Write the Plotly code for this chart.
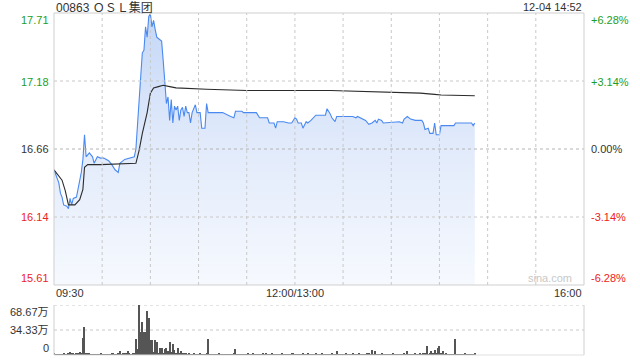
import plotly.graph_objects as go

# ---------------- data ----------------
title_text = "00863 ＯＳＬ集团"
stamp_text = "12-04 14:52"
prev_close = 16.66
pct_limit = 0.0628

# trading minutes since 09:30 (12:00 and 13:00 both at 150)
price_minute = [0, 2, 3, 4, 5, 6, 8, 9, 10, 11, 12, 14, 16, 17, 18, 19, 20, 22, 24, 25,
                27, 29, 31, 34, 36, 38, 40, 41, 44, 47, 50, 51, 52, 53, 54, 55, 56, 57, 58, 59,
                60, 61, 62, 63, 64, 65, 67, 68, 69, 70, 71, 72, 73, 74, 75, 76, 77, 78, 79, 80,
                81, 82, 83, 84, 85, 86, 88, 89, 91, 92, 94, 95, 96, 105, 110, 112, 113, 117, 118, 126,
                128, 133, 134, 137, 138, 139, 143, 146, 148, 150, 151, 152, 154, 155, 157, 158, 160, 163, 169, 170,
                172, 173, 175, 176, 186, 188, 189, 191, 194, 196, 198, 200, 201, 202, 204, 205, 215, 217, 218, 220,
                222, 225, 229, 230, 231, 233, 234, 236, 237, 238, 240, 241, 249, 250, 260, 261, 262]
price_value = [16.50, 16.44, 16.40, 16.32, 16.29, 16.23, 16.22, 16.20, 16.28, 16.23, 16.28, 16.29, 16.42, 16.48, 16.58, 16.77, 16.60, 16.63, 16.60, 16.55,
               16.60, 16.59, 16.59, 16.57, 16.54, 16.50, 16.48, 16.55, 16.58, 16.59, 16.60, 16.66, 16.88, 17.06, 17.22, 17.40, 17.42, 17.60, 17.52, 17.68,
               17.70, 17.60, 17.65, 17.58, 17.52, 17.51, 17.49, 17.34, 17.17, 17.01, 17.06, 16.88, 17.04, 16.86, 16.99, 16.96, 16.99, 16.88, 16.96, 16.98,
               16.91, 16.99, 16.94, 16.94, 16.86, 16.94, 17.00, 16.94, 16.94, 16.82, 16.82, 17.01, 16.94, 16.94, 16.91, 16.90, 16.95, 16.95, 16.94, 16.94,
               16.90, 16.90, 16.86, 16.86, 16.82, 16.87, 16.87, 16.86, 16.86, 16.90, 16.89, 16.86, 16.86, 16.82, 16.87, 16.86, 16.88, 16.92, 16.92, 16.97,
               16.93, 16.90, 16.87, 16.91, 16.91, 16.90, 16.91, 16.90, 16.88, 16.85, 16.86, 16.88, 16.86, 16.89, 16.88, 16.86, 16.87, 16.86, 16.89, 16.91,
               16.89, 16.88, 16.88, 16.86, 16.81, 16.82, 16.78, 16.78, 16.86, 16.77, 16.77, 16.84, 16.84, 16.86, 16.86, 16.84, 16.86]

avg_minute = [0, 3, 5, 7, 9, 13, 16, 18, 19, 21, 29, 51, 53, 55, 58, 60, 62, 65, 68, 72,
              76, 95, 120, 172, 197, 228, 237, 241, 262]
avg_value = [16.50, 16.45, 16.42, 16.34, 16.23, 16.23, 16.27, 16.35, 16.52, 16.54, 16.54, 16.55, 16.65, 16.78, 16.94, 17.09, 17.13, 17.14, 17.15, 17.14,
             17.13, 17.12, 17.11, 17.11, 17.10, 17.09, 17.08, 17.075, 17.07]

# volume per minute, unit: 万 shares (minutes 0..262)
volume_wan = [
    2.5, 1.0, 0.8, 1.2, 0.6, 1.0, 1.5, 0.8, 1.2, 3.0,
    3.5, 2.0, 3.0, 1.0, 2.5, 1.5, 4.0, 2.0, 23.0, 38.0,
    3.0, 1.5, 2.0, 1.0, 0.8, 1.2, 0.6, 1.0, 0.8, 1.5,
    1.0, 0.8, 1.2, 0.6, 1.0, 0.8, 1.5, 2.0, 1.0, 0.8,
    1.5, 6.0, 1.0, 2.0, 1.5, 3.0, 6.0, 2.0, 1.0, 1.5,
    3.0, 22.0, 8.0, 68.67, 32.0, 45.0, 31.0, 32.0, 61.0, 51.0,
    21.0, 21.0, 4.0, 21.0, 18.0, 3.0, 9.0, 10.0, 3.0, 8.0,
    10.0, 5.0, 18.0, 4.0, 15.0, 7.0, 2.0, 9.0, 2.0, 5.0,
    1.5, 2.0, 3.0, 1.0, 1.5, 0.8, 1.0, 3.0, 1.2, 0.8,
    1.0, 1.5, 0.8, 1.2, 1.0, 1.5, 22.0, 1.0, 0.8, 1.2,
    0.6, 1.0, 0.8, 1.5, 0.6, 1.0, 0.8, 0.6, 1.2, 0.8,
    1.0, 0.6, 1.5, 8.0, 1.0, 0.8, 0.6, 1.2, 1.0, 0.8,
    0.6, 1.5, 1.0, 0.8, 2.0, 1.0, 0.6, 0.8, 1.2, 1.0,
    2.0, 0.8, 1.5, 0.6, 1.0, 0.8, 2.5, 1.0, 0.8, 1.2,
    1.0, 0.6, 1.5, 1.0, 0.8, 1.2, 1.0, 0.6, 2.0, 1.5,
    1.0, 0.8, 1.2, 0.6, 1.0, 2.0, 0.8, 1.0, 1.5, 0.6,
    1.0, 0.8, 1.2, 2.0, 1.0, 0.6, 0.8, 1.5, 1.0, 0.8,
    1.2, 1.0, 0.6, 1.5, 1.0, 0.8, 5.0, 1.0, 0.6, 1.2,
    1.0, 0.8, 1.5, 0.6, 1.0, 1.2, 2.0, 0.8, 1.0, 0.6,
    1.5, 1.0, 0.8, 1.2, 1.0, 2.0, 1.5, 0.8, 7.0, 1.0,
    5.0, 1.2, 0.8, 1.0, 1.5, 0.6, 1.0, 0.8, 1.2, 1.0,
    0.6, 1.5, 1.0, 0.8, 1.2, 1.0, 0.6, 0.8, 1.5, 1.0,
    5.0, 1.2, 0.8, 1.0, 0.6, 1.5, 1.0, 0.8, 2.0, 1.0,
    1.5, 2.0, 13.0, 1.0, 3.0, 5.0, 2.0, 7.0, 1.5, 10.0,
    12.0, 2.0, 6.0, 1.0, 1.5, 0.8, 1.0, 1.2, 0.8, 1.0,
    22.0, 1.0, 0.8, 1.2, 1.0, 0.6, 1.5, 1.0, 0.8, 1.2,
    1.0, 0.8, 1.5]
volume_minute = list(range(len(volume_wan)))
vol_max = 68.67

price_ticks = [17.71, 17.18, 16.66, 16.14, 15.61]
pct_ticks = ["+6.28%", "+3.14%", "0.00%", "-3.14%", "-6.28%"]
time_labels = ["09:30", "12:00/13:00", "16:00"]
time_label_minutes = [0, 150, 330]
vol_tick_labels = ["68.67万", "34.33万", "0"]

# ---------------- styling ----------------
W, H = 640, 360
FONT = "Liberation Sans, Arial, Noto Sans CJK SC, sans-serif"
GREEN = "#1e9e1e"
RED = "#ee2222"
DARK = "#333333"
GRID = "#c8c8c8"
BORDER = "#cfcfcf"

x0p, x1p = 54, 584            # plot left/right (px)
main_top, main_bot = 13, 285  # main panel (px)
vol_top, vol_bot = 305, 355   # volume panel (px)

def fx(px):
    return px / W

def fy(py):
    return 1 - py / H

y_lo = prev_close * (1 - pct_limit)
y_hi = prev_close * (1 + pct_limit)

fig = go.Figure()

# baseline for the gradient fill
fig.add_trace(go.Scatter(x=price_minute, y=[y_lo] * len(price_minute), mode="lines",
                         line=dict(width=0, color="rgba(0,0,0,0)"), hoverinfo="skip",
                         showlegend=False, xaxis="x", yaxis="y"))
fig.add_trace(go.Scatter(x=price_minute, y=price_value, mode="lines",
                         line=dict(color="#4a89f0", width=1.1),
                         fill="tonexty",
                         fillgradient=dict(type="vertical", start=y_lo, stop=y_hi,
                                           colorscale=[[0, "rgba(246,249,254,1)"],
                                                       [0.5, "rgba(226,235,251,1)"],
                                                       [1, "rgba(196,215,247,1)"]]),
                         showlegend=False, xaxis="x", yaxis="y"))
fig.add_trace(go.Scatter(x=avg_minute, y=avg_value, mode="lines",
                         line=dict(color="#2b2b2b", width=1.1),
                         showlegend=False, xaxis="x", yaxis="y"))

fig.add_trace(go.Bar(x=volume_minute, y=volume_wan, width=0.65,
                     marker=dict(color="#555555", line=dict(width=0)),
                     showlegend=False, xaxis="x2", yaxis="y2"))

shapes = []
# main vertical grid (every 30 min)
for m in range(30, 330, 30):
    shapes.append(dict(type="line", xref="x", yref="y", x0=m, x1=m, y0=y_lo, y1=y_hi,
                       line=dict(color=GRID, width=1, dash="dot"), layer="above"))
# main horizontal grid
for v in [prev_close * (1 + pct_limit / 2), prev_close * (1 - pct_limit / 2)]:
    shapes.append(dict(type="line", xref="x", yref="y", x0=0, x1=330, y0=v, y1=v,
                       line=dict(color=GRID, width=1, dash="dot"), layer="above"))
shapes.append(dict(type="line", xref="x", yref="y", x0=0, x1=330, y0=prev_close, y1=prev_close,
                   line=dict(color="#b4b4b4", width=1, dash="3px,3px"), layer="above"))
# main frame
shapes.append(dict(type="rect", xref="paper", yref="paper", x0=fx(x0p), x1=fx(x1p),
                   y0=fy(main_bot), y1=fy(main_top), line=dict(color=BORDER, width=1), layer="above"))
# volume grid + frame
for v in [vol_max, vol_max / 2]:
    shapes.append(dict(type="line", xref="x2", yref="y2", x0=0, x1=330, y0=v, y1=v,
                       line=dict(color=GRID, width=1, dash="dot"), layer="below"))
shapes.append(dict(type="line", xref="paper", yref="paper", x0=fx(x0p), x1=fx(x0p),
                   y0=fy(vol_bot), y1=fy(vol_top), line=dict(color=BORDER, width=1)))
shapes.append(dict(type="line", xref="paper", yref="paper", x0=fx(x1p), x1=fx(x1p),
                   y0=fy(vol_bot), y1=fy(vol_top), line=dict(color=BORDER, width=1)))
shapes.append(dict(type="line", xref="paper", yref="paper", x0=fx(x0p), x1=fx(x1p),
                   y0=fy(vol_bot), y1=fy(vol_bot), line=dict(color="#e0e0e0", width=1)))

ann = []
def add_text(text, px, py, xanchor, color=DARK, size=11):
    ann.append(dict(text=text, x=fx(px), y=fy(py), xref="paper", yref="paper",
                    xanchor=xanchor, yanchor="middle", showarrow=False,
                    font=dict(family=FONT, size=size, color=color)))

add_text(title_text, x0p, 7, "left", DARK, 12)
add_text(stamp_text, x1p, 7, "right", DARK, 11)

label_y = [20, 82, 149, 217, 278]
label_colors = [GREEN, GREEN, DARK, RED, RED]
for t, py, c in zip(price_ticks, label_y, label_colors):
    add_text(f"{t:.2f}", 51, py, "right", c)
for t, py, c in zip(pct_ticks, label_y, label_colors):
    add_text(t, 589, py, "left", c)

for lab, m in zip(time_labels, time_label_minutes):
    px = x0p + (x1p - x0p) * m / 330
    anchor = "left" if m == 0 else ("right" if m == 330 else "center")
    add_text(lab, px, 293, anchor, DARK)

for lab, py in zip(vol_tick_labels, [312, 330, 348]):
    add_text(lab, 51, py, "right", DARK)

add_text("sina.com", 574, 278, "right", "#c8c8c8", 11)

fig.update_layout(
    width=W, height=H, margin=dict(l=0, r=0, t=0, b=0),
    paper_bgcolor="white", plot_bgcolor="white",
    showlegend=False, bargap=0,
    xaxis=dict(domain=[fx(x0p), fx(x1p)], range=[0, 330], showgrid=False, zeroline=False,
               showticklabels=False, ticks="", fixedrange=True),
    yaxis=dict(domain=[fy(main_bot), fy(main_top)], range=[y_lo, y_hi], showgrid=False,
               zeroline=False, showticklabels=False, ticks="", fixedrange=True),
    xaxis2=dict(domain=[fx(x0p), fx(x1p)], range=[0, 330], anchor="y2", showgrid=False,
                zeroline=False, showticklabels=False, ticks="", fixedrange=True),
    yaxis2=dict(domain=[fy(vol_bot), fy(vol_top)], range=[0, vol_max], anchor="x2",
                showgrid=False, zeroline=False, showticklabels=False, ticks="", fixedrange=True),
    shapes=shapes, annotations=ann,
)

fig.write_html("out.html")
